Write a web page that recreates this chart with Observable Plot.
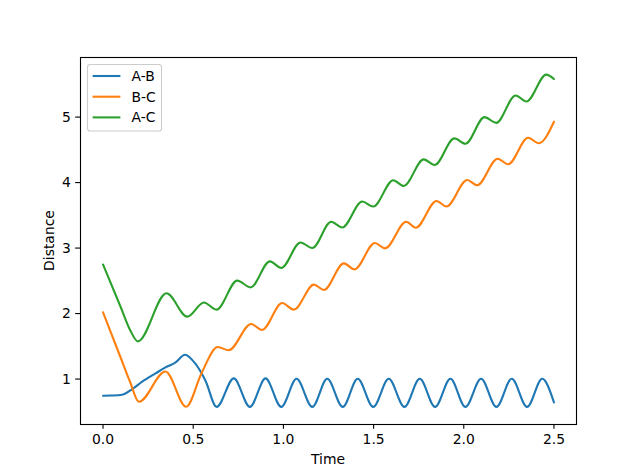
<!DOCTYPE html>
<html>
<head>
<meta charset="utf-8">
<script src="https://cdn.jsdelivr.net/npm/d3@7"></script>
<script src="https://cdn.jsdelivr.net/npm/@observablehq/plot@0.6"></script>
<style>
  html, body { margin: 0; padding: 0; background: #ffffff; }
  #chart svg { display: block; }
</style>
</head>
<body>
<div id="chart"></div>
<script>
// ---- data ----
const seriesNames = ["A-B", "B-C", "A-C"];
const seriesColors = ["#1f77b4", "#ff7f0e", "#2ca02c"];

const abTime = [0, 0.05, 0.106, 0.162, 0.217, 0.291, 0.346, 0.402, 0.454, 0.513, 0.568, 0.630,
  0.725, 0.814, 0.901, 0.988, 1.073, 1.160, 1.243, 1.329, 1.412, 1.498, 1.584, 1.671, 1.756,
  1.841, 1.926, 2.009, 2.096, 2.181, 2.266, 2.351, 2.435, 2.5];
const abDist = [0.745, 0.748, 0.76, 0.847, 0.96, 1.086, 1.177, 1.254, 1.372, 1.23, 0.974, 0.575,
  1.01, 0.575, 1.01, 0.575, 1.005, 0.575, 1.005, 0.575, 1.005, 0.575, 1.005, 0.575, 1.005,
  0.575, 1.005, 0.575, 1.005, 0.575, 1.005, 0.575, 1.005, 0.643];

const bcTime = [0, 0.1, 0.15, 0.199, 0.346, 0.461, 0.546, 0.636, 0.697, 0.821, 0.882, 0.993, 1.058,
  1.169, 1.224, 1.335, 1.394, 1.507, 1.564, 1.681, 1.734, 1.849, 1.904, 2.019, 2.074, 2.188,
  2.246, 2.357, 2.416, 2.5];
const bcDist = [2.02, 1.31, 0.955, 0.653, 1.116, 0.576, 1.09, 1.49, 1.44, 1.84, 1.75, 2.16, 2.06,
  2.442, 2.36, 2.766, 2.675, 3.077, 2.995, 3.401, 3.31, 3.72, 3.634, 4.04, 3.96, 4.365,
  4.28, 4.685, 4.60, 4.93];

const acTime = [0, 0.1, 0.15, 0.193, 0.352, 0.467, 0.559, 0.629, 0.744, 0.818, 0.925, 0.988,
  1.095, 1.160, 1.265, 1.326, 1.437, 1.498, 1.609, 1.667, 1.778, 1.838, 1.948, 2.009, 2.115,
  2.180, 2.287, 2.348, 2.457, 2.5];
const acDist = [2.748, 2.085, 1.75, 1.575, 2.31, 1.953, 2.17, 2.06, 2.503, 2.40, 2.797, 2.697,
  3.086, 3.0, 3.401, 3.314, 3.71, 3.634, 4.036, 3.949, 4.355, 4.269, 4.675, 4.593, 4.999,
  4.912, 5.33, 5.238, 5.649, 5.582];

const xTicks = [0, 0.5, 1.0, 1.5, 2.0, 2.5];
const yTicks = [1, 2, 3, 4, 5];
const xLabel = "Time";
const yLabel = "Distance";

// ---- build table ----
const seriesTimes = [abTime, bcTime, acTime];
const seriesDists = [abDist, bcDist, acDist];
const rows = [];
seriesNames.forEach((name, i) => {
  seriesTimes[i].forEach((t, j) => rows.push({series: name, time: t, distance: seriesDists[i][j]}));
});

const FS = 13.9;      // 10pt at 100 dpi
const TICK = 4.86;    // 3.5pt

const plot = Plot.plot({
  width: 640,
  height: 476,
  marginTop: 57,
  marginRight: 64,
  marginBottom: 52,
  marginLeft: 80,
  style: {fontFamily: "'DejaVu Sans', sans-serif", fontSize: FS + "px", background: "#ffffff", color: "#000000", overflow: "visible"},
  x: {domain: [-0.125, 2.625]},
  y: {domain: [0.306, 5.91]},
  color: {domain: seriesNames, range: seriesColors},
  marks: [
    Plot.lineY(rows, {x: "time", y: "distance", stroke: "series", z: "series", strokeWidth: 2.08, curve: "monotone-x"}),
    Plot.frame({stroke: "#000000", strokeWidth: 1.1}),
    Plot.axisX({ticks: xTicks, tickFormat: d3.format(".1f"), tickSize: TICK, tickPadding: TICK, label: null, strokeWidth: 1.1, fontSize: FS}),
    Plot.axisY({ticks: yTicks, tickFormat: d3.format("d"), tickSize: TICK, tickPadding: TICK, label: null, strokeWidth: 1.1, fontSize: FS})
  ]
});

document.getElementById("chart").appendChild(plot);

// ---- axis titles and legend ----
const svg = d3.select(plot);
const xr = plot.scale("x").range;
const yr = plot.scale("y").range;
const frameLeft = Math.min(...xr), frameRight = Math.max(...xr);
const frameTop = Math.min(...yr), frameBottom = Math.max(...yr);

svg.append("text")
  .attr("x", (frameLeft + frameRight) / 2)
  .attr("y", frameBottom + 39.5)
  .attr("text-anchor", "middle")
  .attr("fill", "#000")
  .style("font-size", FS + "px")
  .text(xLabel);

svg.append("text")
  .attr("transform", `translate(${frameLeft - 26},${(frameTop + frameBottom) / 2}) rotate(-90)`)
  .attr("text-anchor", "middle")
  .attr("fill", "#000")
  .style("font-size", FS + "px")
  .text(yLabel);

const lg = svg.append("g").attr("transform", `translate(${frameLeft + 7},${frameTop + 7})`);
const rowH = 20.7;
lg.append("rect")
  .attr("x", 0.5).attr("y", 0.5)
  .attr("width", 74).attr("height", 66.5)
  .attr("rx", 2.8).attr("ry", 2.8)
  .attr("fill", "#ffffff").attr("fill-opacity", 0.8)
  .attr("stroke", "#cccccc").attr("stroke-width", 1.1);
seriesNames.forEach((name, i) => {
  const cy = 12 + i * rowH;
  lg.append("line")
    .attr("x1", 5.6).attr("x2", 33.4)
    .attr("y1", cy).attr("y2", cy)
    .attr("stroke", seriesColors[i]).attr("stroke-width", 2.08);
  lg.append("text")
    .attr("x", 44.5).attr("y", cy)
    .attr("dy", "0.36em")
    .attr("text-anchor", "start")
    .attr("fill", "#000")
    .style("font-size", FS + "px")
    .text(name);
});
</script>
</body>
</html>
